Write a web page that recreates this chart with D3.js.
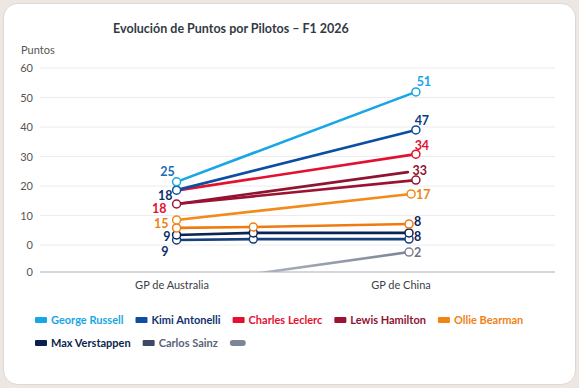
<!DOCTYPE html>
<html>
<head>
<meta charset="utf-8">
<script src="https://cdn.jsdelivr.net/npm/d3@7"></script>
<style>
    html, body { margin: 0; padding: 0; background: #ece7e2; }
    svg { display: block; font-family: Lato, 'Noto Sans', sans-serif; }
</style>
</head>
<body>
<script>
    var w = 579, h = 388;

    // data
    var categories = ['GP de Australia', 'GP de China'];
    var yTickValues = [-9.15, 0, 10, 20, 30, 40, 50, 60];
    var yTickLabels = ['0', '0', '10', '20', '30', '40', '50', '60'];

    // [category position, points]
    var russell = [[0.02, 21.4], [1.065, 51.9]];
    var antonelli = [[0.02, 18.6], [1.065, 39]];
    var leclerc = [[0.03, 18.6], [1.065, 30.8]];
    var hamilton = [[0.02, 13.9], [1.065, 22]];
    var hamiltonTrend = [[0.02, 13.9], [1.03, 24.7]];
    var bearman = [[0.02, 8.5], [1.044, 17.3]];
    var bearmanLow = [[0.02, 5.8], [0.355, 6.1], [1.035, 7.1]];
    var verstappen = [[0.02, 3.4], [0.355, 4.1], [1.035, 4.1]];
    var sainz = [[0.02, 1.7], [0.355, 2.0], [1.035, 2.0]];
    var others = [[0.02, -13.5], [1.035, -2.4]];

    var legendNames = ['George Russell', 'Kimi Antonelli', 'Charles Leclerc', 'Lewis Hamilton',
        'Ollie Bearman', 'Max Verstappen', 'Carlos Sainz', ''];

    var series = [
        { data: others, color: '#7d8596', grad: true, endLabel: '2', endColor: '#6b7385', off: [5, 5] },
        { data: sainz, color: '#17407f' },
        { data: verstappen, color: '#0c2358', endLabel: '8', endColor: '#0c2358', off: [5, 8] },
        { data: bearmanLow, color: '#f07a12', endLabel: '8', endColor: '#0c2358', off: [5, 2] },
        { data: bearman, color: '#f28a1c', endLabel: '17', endColor: '#ef8216', off: [5, 5] },
        { data: hamiltonTrend, color: '#8e1430', noMarks: true },
        { data: hamilton, color: '#9b1233' },
        { data: leclerc, color: '#e3102f', endLabel: '34', endColor: '#e3102f', noStart: true, off: [6, -4], mid: true },
        { data: antonelli, color: '#0d4ea3', endLabel: '47', endColor: '#0d3c7c', off: [6, -5], mid: true },
        { data: russell, color: '#19a6e4', endLabel: '51', endColor: '#19a6e4', off: [8, -6], mid: true }
    ];

    // start-of-race labels (Australia)
    var startLabels = [
        { text: '25', v: 21.4, color: '#1b6db3', dx: -9, dy: -6, anchor: 'middle' },
        { text: '18', v: 18.6, color: '#0d2f66', dx: -4, dy: 10, anchor: 'end' },
        { text: '18', v: 13.9, color: '#e3102f', dx: -10, dy: 9, anchor: 'end' },
        { text: '15', v: 8.5, color: '#ef8216', dx: -8, dy: 8, anchor: 'end' },
        { text: '9', v: 3.4, color: '#0d2f66', dx: -6, dy: 6, anchor: 'end' },
        { text: '9', v: 1.7, color: '#0d2f66', dx: -8, dy: 16, anchor: 'end' }
    ];

    var svg = d3.select('body')
        .append('svg')
        .attr('width', w)
        .attr('height', h);

    // card
    svg.append('rect')
        .attr('x', 3.5).attr('y', 3.5)
        .attr('width', w - 7).attr('height', h - 7)
        .attr('rx', 14)
        .style('fill', '#ffffff')
        .style('stroke', '#ddd7d1');

    svg.append('text')
        .attr('x', 231).attr('y', 33)
        .attr('text-anchor', 'middle')
        .style('font-size', '12.5px')
        .style('font-weight', 700)
        .style('fill', '#333a44')
        .text('Evolución de Puntos por Pilotos – F1 2026');

    svg.append('text')
        .attr('x', 21).attr('y', 54)
        .style('font-size', '11px')
        .style('fill', '#555')
        .text('Puntos');

    var x = d3.scaleLinear().domain([0, 1]).range([172, 401]);
    var y = d3.scaleLinear().domain([-9.15, 60]).range([272, 68]);

    // grid
    svg.selectAll('.grid')
        .data(yTickValues.slice(1))
        .enter()
        .append('line')
        .attr('class', 'grid')
        .attr('x1', 40).attr('x2', 555)
        .attr('y1', function(d) { return y(d); })
        .attr('y2', function(d) { return y(d); })
        .style('stroke', '#ececef')
        .style('stroke-width', 1);

    svg.append('line')
        .attr('x1', 40).attr('x2', 555)
        .attr('y1', y(yTickValues[0])).attr('y2', y(yTickValues[0]))
        .style('stroke', '#a9adb6');

    svg.selectAll('.ytick')
        .data(yTickValues)
        .enter()
        .append('text')
        .attr('class', 'ytick')
        .attr('x', 33)
        .attr('y', function(d) { return y(d) + 4; })
        .attr('text-anchor', 'end')
        .style('font-size', '11px')
        .style('fill', '#555')
        .text(function(d, i) { return yTickLabels[i]; });

    svg.selectAll('.xtick')
        .data(categories)
        .enter()
        .append('text')
        .attr('class', 'xtick')
        .attr('x', function(d, i) { return x(i); })
        .attr('y', 289)
        .attr('text-anchor', 'middle')
        .style('font-size', '11px')
        .style('fill', '#3a3f48')
        .text(function(d) { return d; });

    var defs = svg.append('defs');
    defs.append('clipPath').attr('id', 'plot')
        .append('rect').attr('x', 0).attr('y', 0).attr('width', w).attr('height', y(yTickValues[0]));
    var grad = defs.append('linearGradient').attr('id', 'fade')
        .attr('x1', '0%').attr('x2', '100%');
    grad.append('stop').attr('offset', '0%').attr('stop-color', '#c9ccd4');
    grad.append('stop').attr('offset', '100%').attr('stop-color', '#7d8596');

    var plot = svg.append('g').attr('clip-path', 'url(#plot)');

    var line = d3.line()
        .x(function(d) { return x(d[0]); })
        .y(function(d) { return y(d[1]); });

    plot.selectAll('.series')
        .data(series)
        .enter()
        .append('path')
        .attr('class', 'series')
        .attr('d', function(d) { return line(d.data); })
        .style('fill', 'none')
        .style('stroke', function(d) { return d.grad ? 'url(#fade)' : d.color; })
        .style('stroke-width', 2.6)
        .style('stroke-linecap', 'round');

    series.forEach(function(s) {
        if (s.noMarks) return;
        var pts = s.noStart ? s.data.slice(1) : s.data;
        plot.selectAll(null)
            .data(pts)
            .enter()
            .append('circle')
            .attr('cx', function(d) { return x(d[0]); })
            .attr('cy', function(d) { return y(d[1]); })
            .attr('r', 4)
            .style('fill', '#fff')
            .style('stroke', s.color)
            .style('stroke-width', 1.5);
    });

    // end labels (China)
    series.forEach(function(s) {
        if (!s.endLabel) return;
        var last = s.data[s.data.length - 1];
        svg.append('text')
            .attr('x', x(last[0]) + s.off[0])
            .attr('y', y(last[1]) + s.off[1])
            .attr('text-anchor', s.mid ? 'middle' : 'start')
            .style('font-size', '12.5px')
            .style('font-weight', 700)
            .style('fill', s.endColor)
            .text(s.endLabel);
    });

    svg.append('text')
        .attr('x', x(hamiltonTrend[1][0]) + 12)
        .attr('y', y(hamiltonTrend[1][1]) + 3)
        .attr('text-anchor', 'middle')
        .style('font-size', '12.5px')
        .style('font-weight', 700)
        .style('fill', '#8e1430')
        .text('33');

    svg.selectAll('.slabel')
        .data(startLabels)
        .enter()
        .append('text')
        .attr('class', 'slabel')
        .attr('x', function(d) { return x(0.02) + d.dx; })
        .attr('y', function(d) { return y(d.v) + d.dy; })
        .attr('text-anchor', function(d) { return d.anchor; })
        .style('font-size', '12.5px')
        .style('font-weight', 700)
        .style('fill', function(d) { return d.color; })
        .text(function(d) { return d.text; });

    // legend
    var legendColors = ['#19a6e4', '#0d4ea3', '#e3102f', '#9b1233', '#f08414', '#0c1f4f', '#3d4a66', '#7d8596'];
    var legendText = ['#19a6e4', '#12336e', '#e3102f', '#8e1430', '#ef8216', '#0c1f4f', '#5a6378', '#7d8596'];
    var lx = 35, ly = 320;
    legendNames.forEach(function(name, i) {
        if (i === 5) { lx = 35; ly = 343; }
        var g = svg.append('g').attr('transform', 'translate(' + lx + ',' + ly + ')');
        var sw = name ? 12 : 16;
        g.append('rect')
            .attr('x', 0).attr('y', -3)
            .attr('width', sw).attr('height', 6)
            .attr('rx', name ? 1 : 3)
            .style('fill', legendColors[i]);
        var t = g.append('text')
            .attr('x', sw + 4).attr('y', 4)
            .style('font-size', '11px')
            .style('font-weight', 700)
            .style('fill', legendText[i])
            .text(name);
        lx += sw + 4 + (name ? t.node().getComputedTextLength() : 0) + 12;
    });
</script>
</body>
</html>
